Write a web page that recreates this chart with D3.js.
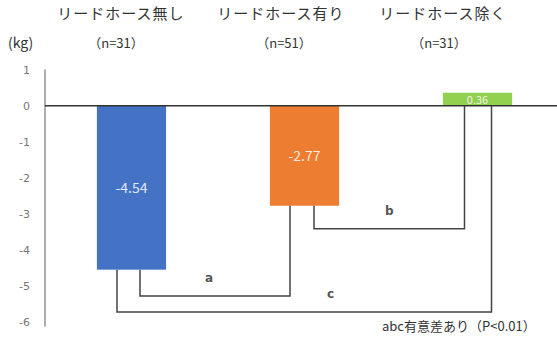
<!DOCTYPE html>
<html>
<head>
<meta charset="utf-8">
<script src="https://cdn.jsdelivr.net/npm/d3@7"></script>
<style>
  html, body { margin: 0; padding: 0; background: #fff; }
  svg { display: block; font-family: "Noto Sans CJK JP", "Noto Sans", sans-serif; }
</style>
</head>
<body>
<svg id="chart" width="557" height="338"></svg>
<script>
// Weight change per group (kg)
const categories = ["リードホース無し", "リードホース有り", "リードホース除く"];
const counts = ["（n=31）", "（n=51）", "（n=31）"];
const values = [-4.54, -2.77, 0.36];
const valueLabels = ["-4.54", "-2.77", "0.36"];
const colors = ["#4472C4", "#ED7D31", "#92D050"];
const yTicks = [1, 0, -1, -2, -3, -4, -5, -6];
const yTickLabels = ["1", "0", "-1", "-2", "-3", "-4", "-5", "-6"];

// Significance brackets: from bar, to bar, bracket depth (kg), letter
const bracketFrom = [0, 1, 0];
const bracketTo = [1, 2, 2];
const bracketLevel = [-5.27, -3.41, -5.71];
const bracketLetter = ["a", "b", "c"];

const svg = d3.select("#chart");

const x = d3.scaleBand().domain(d3.range(categories.length)).range([45, 564]).paddingInner(0.6).paddingOuter(0.3);
const y = d3.scaleLinear().domain([-6, 1]).range([322.4, 69.6]);

// Headers
svg.selectAll("text.cat").data(categories).join("text")
  .attr("class", "cat")
  .attr("x", (d, i) => [121, 281, 443][i])
  .attr("y", 19)
  .attr("text-anchor", "middle")
  .attr("font-size", 15)
  .attr("fill", "#333")
  .attr("letter-spacing", 1)
  .text(d => d);

svg.selectAll("text.n").data(counts).join("text")
  .attr("class", "n")
  .attr("x", (d, i) => [116, 284, 439][i])
  .attr("y", 48)
  .attr("text-anchor", "middle")
  .attr("font-size", 13)
  .attr("fill", "#333")
  .text(d => d);

svg.append("text")
  .attr("x", 8).attr("y", 48)
  .attr("font-size", 14)
  .attr("fill", "#333")
  .text("(kg)");

// Y axis
const yAxis = d3.axisLeft(y).tickValues(yTicks).tickSize(0).tickPadding(15)
  .tickFormat((d, i) => yTickLabels[i]);
const gy = svg.append("g").attr("transform", "translate(45,0)").call(yAxis);
gy.select(".domain").attr("stroke", "#777").attr("stroke-width", 1.2).attr("d", `M0,${y(1)}V${y(-6) + 4}`);
gy.selectAll(".tick text").attr("fill", "#777").attr("font-size", 11).attr("font-family", "DejaVu Sans, sans-serif");

// Bars
svg.selectAll("rect.bar").data(values).join("rect")
  .attr("class", "bar")
  .attr("x", (d, i) => x(i))
  .attr("width", x.bandwidth())
  .attr("y", d => y(Math.max(0, d)))
  .attr("height", d => Math.abs(y(d) - y(0)))
  .attr("fill", (d, i) => colors[i]);

// Value labels
svg.selectAll("text.val").data(values).join("text")
  .attr("class", "val")
  .attr("x", (d, i) => x(i) + x.bandwidth() / 2)
  .attr("y", d => (y(d) + y(0)) / 2 + 5)
  .attr("text-anchor", "middle")
  .attr("font-size", (d, i) => i === 2 ? 11 : 14)
  .attr("fill", "#fff")
  .attr("fill-opacity", 0.85)
  .text((d, i) => valueLabels[i]);

// Zero line
svg.append("line")
  .attr("x1", 45).attr("x2", 557)
  .attr("y1", y(0)).attr("y2", y(0))
  .attr("stroke", "#333").attr("stroke-width", 1.6);

// Brackets
const cx = i => x(i) + x.bandwidth() / 2;
const fromOff = [8.5, 9.5, -14.5];
const toOff = [-14.5, -13, 14];
const labelAt = [0.46, 0.5, 0.57];
bracketLetter.forEach((letter, k) => {
  const x1 = cx(bracketFrom[k]) + fromOff[k];
  const x2 = cx(bracketTo[k]) + toOff[k];
  const yb = y(bracketLevel[k]);
  const y1 = y(Math.min(0, values[bracketFrom[k]]));
  const y2 = y(Math.min(0, values[bracketTo[k]]));
  svg.append("path")
    .attr("d", `M${x1},${y1}V${yb}H${x2}V${y2}`)
    .attr("fill", "none")
    .attr("stroke", "#444")
    .attr("stroke-width", 1.5);
  svg.append("text")
    .attr("x", x1 + (x2 - x1) * labelAt[k])
    .attr("y", yb - 14)
    .attr("text-anchor", "middle")
    .attr("font-size", 12)
    .attr("font-weight", "bold")
    .attr("fill", "#555")
    .attr("font-family", "DejaVu Sans, sans-serif")
    .text(letter);
});

// Footnote
svg.append("text")
  .attr("x", 382).attr("y", 331)
  .attr("font-size", 13)
  .attr("fill", "#333")
  .text("abc有意差あり（P<0.01）");
</script>
</body>
</html>
